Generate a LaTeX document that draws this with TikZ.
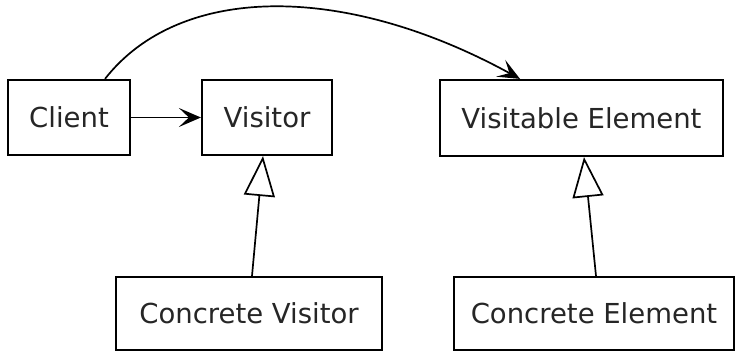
\documentclass[tikz,border=0pt]{standalone}
\usepackage{fontspec}
\setmainfont{DejaVu Sans}
\usetikzlibrary{arrows.meta}
\begin{document}
\begin{tikzpicture}[x=1pt,y=-1pt,
  classbox/.style={draw=black, line width=2.2pt, fill=white, inner sep=0pt,
    font=\fontsize{27.5}{32}\selectfont, text=black!85},
  assoc/.style={line width=1.7pt, -{Stealth[length=22pt,width=19pt,inset=10pt]}},
  inherit/.style={line width=1.7pt, -{Triangle[open,length=40pt,width=31pt,line width=1.7pt]}}]
  \useasboundingbox (0,0) rectangle (736,352);

  \node[classbox, minimum width=122pt, minimum height=75pt] (client) at (69,117.5) {Client};
  \node[classbox, minimum width=130pt, minimum height=75pt] (visitor) at (267,117.5) {Visitor};
  \node[classbox, minimum width=283pt, minimum height=76pt] (velem) at (581.5,118) {Visitable Element};
  \node[classbox, minimum width=266pt, minimum height=73pt] (cvisitor) at (249,313.5) {Concrete Visitor};
  \node[classbox, minimum width=280pt, minimum height=73pt] (celem) at (594,313.5) {Concrete Element};

  % associations
  \draw[assoc] (client.east) -- (visitor.west);
  \draw[assoc] ([xshift=36pt]client.north) .. controls (180,-17) and (345,-17) .. ([xshift=-61.5pt]velem.north);

  % generalisations
  \draw[inherit] ([xshift=3pt]cvisitor.north) -- ([xshift=-4pt]visitor.south);
  \draw[inherit] ([xshift=2pt]celem.north) -- ([xshift=2.5pt]velem.south);
\end{tikzpicture}
\end{document}
